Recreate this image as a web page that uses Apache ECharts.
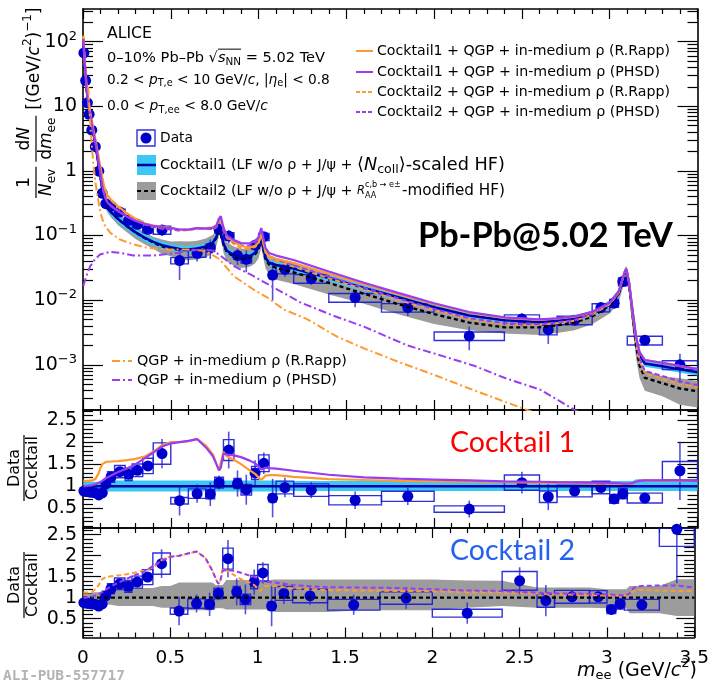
<!DOCTYPE html>
<html><head><meta charset="utf-8">
<script src="https://cdn.jsdelivr.net/npm/echarts@6/dist/echarts.min.js"></script>
<style>html,body{margin:0;padding:0;background:#fff;overflow:hidden}#c{width:712px;height:682px}</style>
</head><body><div id="c"></div>
<script>
// ===== data points (bin centres, bin edges, values) =====
const ptM   = [0.005,0.015,0.025,0.035,0.05,0.07,0.09,0.11,0.13,0.16,0.21,0.26,0.31,0.37,0.45,0.55,0.65,0.725,0.775,0.83,0.88,0.93,0.98,1.03,1.08,1.15,1.3,1.55,1.85,2.2,2.5,2.65,2.8,2.95,3.025,3.075,3.2,3.4];
const binLo = [0,0.01,0.02,0.03,0.04,0.06,0.08,0.10,0.12,0.14,0.18,0.24,0.28,0.34,0.40,0.5,0.6,0.7,0.75,0.8,0.86,0.9,0.96,1.0,1.06,1.1,1.2,1.4,1.7,2.0,2.4,2.6,2.7,2.9,3.0,3.05,3.1,3.3];
const binHi = [0.01,0.02,0.03,0.04,0.06,0.08,0.10,0.12,0.14,0.18,0.24,0.28,0.34,0.40,0.5,0.6,0.7,0.75,0.8,0.86,0.9,0.96,1.0,1.06,1.1,1.2,1.4,1.7,2.0,2.4,2.6,2.7,2.9,3.0,3.05,3.1,3.3,3.5];
const dataY = [67,25,11.3,7.5,4.27,2.37,0.99,0.45,0.311,0.286,0.231,0.172,0.149,0.125,0.122,0.041,0.053,0.065,0.125,0.098,0.049,0.043,0.071,0.096,0.0245,0.030,0.0216,0.011,0.0077,0.0028,0.0051,0.0035,0.0049,0.0077,0.009,0.0194,0.0024,0.001];
const statRel = [0.02,0.02,0.03,0.03,0.03,0.04,0.05,0.06,0.06,0.06,0.05,0.06,0.06,0.07,0.19,0.5,0.25,0.33,0.15,0.23,0.28,0.37,0.22,0.16,0.6,0.23,0.2,0.29,0.26,0.4,0.23,0.4,0.13,0.1,0.05,0.04,0.11,0.49];
const sysRel  = [0.08,0.08,0.08,0.08,0.08,0.09,0.09,0.1,0.1,0.1,0.105,0.11,0.105,0.12,0.14,0.11,0.13,0.13,0.115,0.13,0.11,0.13,0.115,0.125,0.12,0.15,0.155,0.155,0.15,0.15,0.16,0.17,0.15,0.145,0.14,0.14,0.155,0.155];
const ratioC1 = [0.89,0.88,0.88,0.87,0.86,0.85,0.80,0.85,1.05,1.21,1.33,1.27,1.36,1.46,1.74,0.67,0.83,0.82,1.08,1.82,1.06,0.92,1.30,1.52,0.73,0.97,0.91,0.68,0.77,0.48,1.08,0.76,0.89,0.97,0.71,0.83,0.73,1.35];
const ratioC2 = [0.88,0.87,0.87,0.86,0.85,0.84,0.80,0.85,1.04,1.21,1.33,1.27,1.37,1.49,1.81,0.68,0.86,0.84,1.10,1.93,1.14,0.96,1.37,1.59,0.80,1.10,1.04,0.83,0.99,0.63,1.40,0.93,1.02,1.02,0.72,0.85,0.83,2.63];

// ===== cocktail / model curves =====
const curveM = [0.002,0.005,0.01,0.015,0.02,0.03,0.04,0.05,0.06,0.07,0.08,0.09,0.10,0.11,0.12,0.13,0.14,0.16,0.2,0.25,0.3,0.35,0.4,0.45,0.5,0.55,0.6,0.65,0.7,0.74,0.76,0.775,0.785,0.8,0.82,0.86,0.9,0.95,0.98,1.0,1.015,1.025,1.04,1.06,1.1,1.2,1.4,1.6,1.8,2.0,2.2,2.4,2.6,2.7,2.8,2.9,3.0,3.05,3.07,3.085,3.095,3.11,3.13,3.15,3.17,3.2,3.3,3.4,3.5];
const cocktail1 = [110,75,45,29,19,11,7.5,5.2,3.7,2.7,1.8,1.2,0.8,0.52,0.38,0.31,0.27,0.23,0.18,0.14,0.112,0.093,0.08,0.071,0.066,0.062,0.061,0.063,0.068,0.078,0.095,0.135,0.14,0.075,0.058,0.05,0.046,0.048,0.054,0.065,0.095,0.07,0.045,0.038,0.035,0.031,0.022,0.0155,0.011,0.0078,0.0058,0.0049,0.0046,0.0048,0.0052,0.0061,0.0085,0.0125,0.019,0.026,0.029,0.018,0.0065,0.0025,0.0014,0.00105,0.00095,0.00085,0.00077];
const cocktail2 = [110,75,45,29,19,11,7.5,5.2,3.7,2.7,1.8,1.2,0.8,0.52,0.38,0.31,0.27,0.23,0.18,0.14,0.111,0.092,0.078,0.068,0.063,0.060,0.0595,0.061,0.066,0.076,0.093,0.132,0.137,0.072,0.055,0.0475,0.0437,0.0456,0.0513,0.062,0.09,0.0665,0.0425,0.0355,0.0315,0.027,0.0185,0.0126,0.0086,0.0061,0.0045,0.0038,0.0038,0.0041,0.0045,0.0056,0.0083,0.0123,0.0186,0.0255,0.0284,0.0176,0.0059,0.002,0.00098,0.00063,0.00052,0.00043,0.00039];
const c1BandHi = [1.10,1.10,1.10,1.10,1.10,1.10,1.10,1.10,1.10,1.10,1.10,1.10,1.10,1.13,1.13,1.13,1.13,1.13,1.13,1.13,1.13,1.13,1.13,1.13,1.13,1.13,1.13,1.13,1.13,1.13,1.13,1.13,1.13,1.13,1.13,1.13,1.13,1.13,1.13,1.13,1.13,1.13,1.13,1.13,1.13,1.12,1.12,1.12,1.12,1.12,1.12,1.12,1.12,1.12,1.12,1.12,1.12,1.12,1.12,1.12,1.12,1.12,1.12,1.16,1.16,1.16,1.16,1.16,1.16];
const c1BandLo = [0.91,0.91,0.91,0.91,0.91,0.91,0.91,0.91,0.91,0.91,0.91,0.91,0.91,0.88,0.88,0.88,0.88,0.88,0.88,0.88,0.88,0.88,0.88,0.88,0.88,0.88,0.88,0.88,0.88,0.88,0.88,0.88,0.88,0.88,0.88,0.88,0.88,0.88,0.88,0.88,0.88,0.88,0.88,0.88,0.88,0.89,0.89,0.89,0.89,0.89,0.89,0.89,0.89,0.89,0.89,0.89,0.89,0.89,0.89,0.89,0.89,0.89,0.89,0.89,0.89,0.89,0.89,0.89,0.89];
const c2BandHi = [1.10,1.10,1.10,1.10,1.10,1.10,1.10,1.10,1.13,1.13,1.13,1.13,1.13,1.18,1.18,1.18,1.18,1.18,1.23,1.23,1.23,1.23,1.23,1.28,1.28,1.36,1.36,1.36,1.36,1.36,1.30,1.30,1.30,1.30,1.42,1.42,1.42,1.42,1.42,1.42,1.42,1.42,1.42,1.42,1.43,1.43,1.43,1.43,1.43,1.43,1.41,1.40,1.24,1.24,1.24,1.24,1.20,1.20,1.20,1.20,1.20,1.20,1.28,1.28,1.28,1.28,1.28,1.44,1.44];
const c2BandLo = [0.90,0.90,0.90,0.90,0.90,0.90,0.90,0.90,0.87,0.87,0.87,0.87,0.87,0.83,0.83,0.83,0.83,0.83,0.80,0.80,0.80,0.80,0.80,0.76,0.76,0.70,0.70,0.70,0.70,0.70,0.75,0.75,0.75,0.75,0.72,0.72,0.72,0.72,0.72,0.72,0.72,0.72,0.72,0.72,0.66,0.66,0.66,0.70,0.70,0.70,0.76,0.80,0.76,0.76,0.76,0.76,0.75,0.75,0.75,0.75,0.75,0.75,0.63,0.63,0.63,0.63,0.63,0.56,0.56];
// model / cocktail ratios
const rappOverC1 = [1.12,1.12,1.12,1.12,1.12,1.12,1.12,1.13,1.14,1.16,1.2,1.3,1.42,1.5,1.54,1.55,1.55,1.56,1.57,1.59,1.62,1.67,1.78,1.93,2.0,2.0,2.02,2.07,1.92,1.72,1.5,1.36,1.4,1.78,1.68,1.6,1.5,1.36,1.28,1.2,1.14,1.18,1.24,1.25,1.25,1.21,1.16,1.14,1.12,1.11,1.1,1.09,1.08,1.075,1.07,1.06,1.055,1.05,1.05,1.05,1.05,1.05,1.06,1.1,1.13,1.13,1.12,1.12,1.12];
const phsdOverC1 = [1.0,1.0,1.0,1.0,1.0,1.01,1.01,1.02,1.03,1.04,1.06,1.08,1.1,1.12,1.15,1.18,1.2,1.24,1.32,1.4,1.5,1.63,1.76,1.9,1.97,2.0,2.03,2.07,1.88,1.68,1.5,1.36,1.42,1.74,1.72,1.7,1.66,1.58,1.52,1.45,1.38,1.4,1.42,1.41,1.4,1.35,1.26,1.2,1.17,1.15,1.13,1.11,1.1,1.09,1.085,1.08,1.075,1.07,1.06,1.06,1.06,1.06,1.07,1.1,1.12,1.13,1.13,1.13,1.12];
const rappOverC2 = [1.12,1.12,1.12,1.12,1.12,1.12,1.12,1.13,1.16,1.2,1.24,1.3,1.38,1.44,1.47,1.49,1.5,1.51,1.53,1.56,1.6,1.64,1.72,1.9,1.98,2.0,2.05,2.1,1.95,1.65,1.45,1.33,1.38,1.7,1.65,1.55,1.45,1.37,1.3,1.22,1.16,1.2,1.27,1.28,1.28,1.22,1.18,1.17,1.16,1.15,1.13,1.12,1.1,1.08,1.07,1.06,1.05,1.05,1.05,1.05,1.05,1.05,1.07,1.15,1.18,1.18,1.17,1.16,1.16];
const phsdOverC2 = [1.0,1.0,1.0,1.0,1.0,1.01,1.01,1.02,1.03,1.05,1.07,1.09,1.11,1.13,1.16,1.19,1.22,1.27,1.35,1.45,1.54,1.62,1.75,1.88,1.97,2.0,2.05,2.1,1.95,1.65,1.45,1.33,1.38,1.64,1.66,1.64,1.6,1.53,1.5,1.45,1.4,1.4,1.38,1.37,1.36,1.3,1.25,1.24,1.23,1.2,1.17,1.16,1.12,1.1,1.1,1.09,1.08,1.06,1.06,1.06,1.06,1.06,1.1,1.22,1.27,1.28,1.29,1.29,1.24];
const unity = [[0,1],[3.5,1]];
// QGP + in-medium rho only
const qgpRappM = [0.03,0.035,0.04,0.05,0.06,0.07,0.08,0.1,0.12,0.154,0.21,0.287,0.363,0.477,0.59,0.7,0.778,0.857,0.97,1.05,1.143,1.276,1.45,1.6,1.8,2.0,2.2,2.4,2.6,2.8];
const qgpRapp  = [20,12,6,2.5,1.2,0.7,0.45,0.22,0.15,0.111,0.087,0.073,0.065,0.061,0.061,0.058,0.043,0.0237,0.0147,0.011,0.0072,0.0051,0.0027,0.0018,0.0011,0.0007,0.00043,0.00027,0.00017,0.0001];
const qgpPhsdM = [0.002,0.02,0.04,0.068,0.097,0.154,0.21,0.287,0.4,0.515,0.667,0.745,0.8,0.857,0.97,1.105,1.24,1.43,1.6,1.846,2.0,2.227,2.4,2.607,2.8,3.0];
const qgpPhsd  = [0.0166,0.024,0.033,0.043,0.051,0.056,0.054,0.049,0.049,0.053,0.061,0.058,0.045,0.034,0.0237,0.0147,0.0092,0.0057,0.0039,0.002,0.0015,0.00097,0.00063,0.00041,0.0002,0.0001];

// ===== ticks =====
const xMajor = [0,0.5,1,1.5,2,2.5,3,3.5];
const xMinor = [0.1,0.2,0.3,0.4,0.6,0.7,0.8,0.9,1.1,1.2,1.3,1.4,1.6,1.7,1.8,1.9,2.1,2.2,2.3,2.4,2.6,2.7,2.8,2.9,3.1,3.2,3.3,3.4];
const logMajor = [0.001,0.01,0.1,1,10,100];
const logMinor = [3e-4,4e-4,5e-4,6e-4,7e-4,8e-4,9e-4,2e-3,3e-3,4e-3,5e-3,6e-3,7e-3,8e-3,9e-3,0.02,0.03,0.04,0.05,0.06,0.07,0.08,0.09,0.2,0.3,0.4,0.5,0.6,0.7,0.8,0.9,2,3,4,5,6,7,8,9,20,30,40,50,60,70,80,90,200,300];
const rMajor = [0.5,1,1.5,2,2.5];
const rMinor = [0.1,0.2,0.3,0.4,0.6,0.7,0.8,0.9,1.1,1.2,1.3,1.4,1.6,1.7,1.8,1.9,2.1,2.2,2.3,2.4,2.6,2.7];

// ===== styling =====
const FAM = '"DejaVu Sans", "Liberation Sans", sans-serif';
const ORANGE='#ff9a30', PURPLE='#9a3cf2', CYAN='#3cc8f5', GRAY='#9c9c9c', CBLUE='#0000aa', DOT='#0000cc';
const GRIDS = [
  {left:83, top:9, width:614.5, height:401},
  {left:83, top:410, width:614.5, height:118},
  {left:83, top:528, width:614.5, height:109.5}
];
const YR = [[2e-4,320],[0.05,2.73],[0.05,2.66]];

const tickLS = {color:'#000', width:1.2};
const lineLS = {color:'#000', width:1.6};
function xAx(g, labels){
  const base = {type:'value', gridIndex:g, min:0, max:3.5, splitLine:{show:false}, axisLabel:{show:false}, axisLine:{show:false,onZero:false}};
  const lbl = labels ? {show:true, customValues:xMajor, margin:11, color:'#000', fontFamily:FAM, fontSize:18.5, formatter:v=>String(v)} : {show:false};
  return [
    Object.assign({}, base, {position:'bottom', axisLine:{show:true,onZero:false,lineStyle:lineLS}, axisTick:{show:true,inside:true,length:10,customValues:xMajor,lineStyle:tickLS}, axisLabel:lbl}),
    Object.assign({}, base, {position:'bottom', axisTick:{show:true,inside:true,length:5,customValues:xMinor,lineStyle:tickLS}}),
    Object.assign({}, base, {position:'top', axisLine:{show:true,onZero:false,lineStyle:lineLS}, axisTick:{show:true,inside:true,length:10,customValues:xMajor,lineStyle:tickLS}}),
    Object.assign({}, base, {position:'top', axisTick:{show:true,inside:true,length:5,customValues:xMinor,lineStyle:tickLS}})
  ];
}
function logFmt(v){
  const e = Math.round(Math.log10(v));
  if (e===0) return '{b|1}';
  if (e===1) return '{b|10}';
  return '{b|10}{s|' + (e<0 ? '\u2212'+(-e) : e) + '}';
}
function yAx(g){
  const isLog = g===0;
  const maj = isLog ? logMajor : rMajor, mnr = isLog ? logMinor : rMinor;
  const lenMaj = [20,20,18][g];
  const base = {type: isLog?'log':'value', gridIndex:g, min:YR[g][0], max:YR[g][1], splitLine:{show:false}, axisLabel:{show:false}, axisLine:{show:false,onZero:false}};
  if (isLog) base.logBase = 10;
  const lbl = {show:true, customValues:maj, margin:6, color:'#000', fontFamily:FAM, fontSize:19,
    formatter: isLog ? logFmt : (v=>String(v)),
    rich: {b:{fontFamily:FAM, fontSize:19, color:'#000', lineHeight:24}, s:{fontFamily:FAM, fontSize:13, color:'#000', verticalAlign:'top', lineHeight:13}}};
  return [
    Object.assign({}, base, {position:'left', axisLine:{show:true,onZero:false,lineStyle:lineLS}, axisTick:{show:true,inside:true,length:lenMaj,customValues:maj,lineStyle:tickLS}, axisLabel:lbl}),
    Object.assign({}, base, {position:'left', axisTick:{show:true,inside:true,length:10,customValues:mnr,lineStyle:tickLS}}),
    Object.assign({}, base, {position:'right', axisLine:{show:true,onZero:false,lineStyle:lineLS}, axisTick:{show:true,inside:true,length:lenMaj,customValues:maj,lineStyle:tickLS}}),
    Object.assign({}, base, {position:'right', axisTick:{show:true,inside:true,length:10,customValues:mnr,lineStyle:tickLS}})
  ];
}

// ===== series helpers =====
function bandSeries(g, xs, lo, hi, color){
  return {type:'custom', coordinateSystem:'cartesian2d', xAxisIndex:4*g, yAxisIndex:4*g, silent:true, clip:true,
    data:[[xs[0], hi[0]]], encode:{x:0,y:1},
    renderItem:function(params, api){
      const pts=[];
      for (let i=0;i<xs.length;i++) pts.push(api.coord([xs[i], hi[i]]));
      for (let i=xs.length-1;i>=0;i--) pts.push(api.coord([xs[i], lo[i]]));
      return {type:'polygon', shape:{points:pts}, style:{fill:color}};
    }};
}
function lineSeries(g, xs, ys, color, width, type){
  return {type:'line', xAxisIndex:4*g, yAxisIndex:4*g, data: xs.map((x,i)=>[x, ys[i]]), symbol:'none', showSymbol:false, silent:true, clip:true,
    lineStyle:{color:color, width:width, type:type||'solid'}};
}
function errSeries(g, vals){
  return {type:'custom', coordinateSystem:'cartesian2d', xAxisIndex:4*g, yAxisIndex:4*g, silent:true, clip:true,
    data: vals.map((v,i)=>[ptM[i], v, binLo[i], binHi[i], statRel[i], sysRel[i]]), encode:{x:0,y:1},
    renderItem:function(params, api){
      const cs = params.coordSys;
      const cy = y => Math.max(cs.y, Math.min(cs.y+cs.height, y));
      const m=api.value(0), v=api.value(1), lo=api.value(2), hi=api.value(3), st=api.value(4), sy=api.value(5);
      const a = api.coord([lo, v*(1+sy)]), b = api.coord([hi, v*(1-sy)]);
      const t = api.coord([m, v*(1+st)]), u = api.coord([m, v*(1-st)]);
      const y1 = cy(a[1]), y2 = cy(b[1]);
      return {type:'group', children:[
        {type:'rect', shape:{x:a[0], y:y1, width:b[0]-a[0], height:y2-y1}, style:{fill:'none', stroke:'rgba(25,25,215,0.9)', lineWidth:1.4}},
        {type:'line', shape:{x1:t[0], y1:cy(t[1]), x2:u[0], y2:cy(u[1])}, style:{stroke:'rgba(40,40,215,0.8)', lineWidth:1.6}}
      ]};
    }};
}
function dotSeries(g, vals){
  return {type:'scatter', xAxisIndex:4*g, yAxisIndex:4*g, data: ptM.map((m,i)=>[m, vals[i]]), symbol:'circle', symbolSize:11, silent:true,
    itemStyle:{color:DOT, opacity:1}};
}

// derived band edges and absolute model curves (cocktail x ratio)
const c1Up = cocktail1.map((v,i)=>v*c1BandHi[i]), c1Dn = cocktail1.map((v,i)=>v*c1BandLo[i]);
const c2Up = cocktail2.map((v,i)=>v*c2BandHi[i]), c2Dn = cocktail2.map((v,i)=>v*c2BandLo[i]);
const rapp1Abs = cocktail1.map((v,i)=>v*rappOverC1[i]), phsd1Abs = cocktail1.map((v,i)=>v*phsdOverC1[i]);
const rapp2Abs = cocktail2.map((v,i)=>v*rappOverC2[i]), phsd2Abs = cocktail2.map((v,i)=>v*phsdOverC2[i]);
const DASH=[5,3], DASHDOT=[8,3,2,3];

const series = [
  bandSeries(0, curveM, c2Dn, c2Up, GRAY),
  bandSeries(0, curveM, c1Dn, c1Up, CYAN),
  lineSeries(0, curveM, cocktail2, '#000', 2.4, [4,3]),
  lineSeries(0, curveM, cocktail1, CBLUE, 2.5),
  lineSeries(0, curveM, rapp2Abs, ORANGE, 2, DASH),
  lineSeries(0, curveM, phsd2Abs, PURPLE, 2, DASH),
  lineSeries(0, curveM, rapp1Abs, ORANGE, 2.2),
  lineSeries(0, curveM, phsd1Abs, PURPLE, 2.2),
  lineSeries(0, qgpRappM, qgpRapp, ORANGE, 2, DASHDOT),
  lineSeries(0, qgpPhsdM, qgpPhsd, PURPLE, 2, DASHDOT),
  errSeries(0, dataY),
  dotSeries(0, dataY),
  bandSeries(1, curveM, c1BandLo, c1BandHi, CYAN),
  lineSeries(1, unity.map(p=>p[0]), unity.map(p=>p[1]), CBLUE, 2.5),
  lineSeries(1, curveM, rappOverC1, ORANGE, 2.2),
  lineSeries(1, curveM, phsdOverC1, PURPLE, 2.2),
  errSeries(1, ratioC1),
  dotSeries(1, ratioC1),
  bandSeries(2, curveM, c2BandLo, c2BandHi, GRAY),
  lineSeries(2, unity.map(p=>p[0]), unity.map(p=>p[1]), '#000', 2.4, [4,3]),
  lineSeries(2, curveM, rappOverC2, ORANGE, 2, DASH),
  lineSeries(2, curveM, phsdOverC2, PURPLE, 2, DASH),
  errSeries(2, ratioC2),
  dotSeries(2, ratioC2)
];

// ===== text helpers =====
const mctx = document.createElement('canvas').getContext('2d');
function fnt(size, it, bold, fam){ return (it?'italic ':'')+(bold?'bold ':'')+size.toFixed(2)+'px '+(fam||FAM); }
function tw(t, f){ mctx.font = f; return mctx.measureText(t).width; }
function runsWidth(runs){
  let w=0;
  for (const r of runs){
    if (r.stack) w += Math.max.apply(null, r.stack.map(q=>tw(q.t, fnt(q.s||14, q.it))));
    else w += tw(r.t, fnt(r.s||14, r.it, r.b, r.fam));
  }
  return w;
}
function layoutRuns(x0, yc, runs, color, out){
  let x = x0;
  for (const r of runs){
    if (r.stack){
      let w=0;
      for (const q of r.stack){
        const f = fnt(q.s||14, q.it);
        out.push({type:'text', x:x, y:yc+(q.dy||0), style:{text:q.t, font:f, fill:color, verticalAlign:'middle', align:'left'}});
        w = Math.max(w, tw(q.t, f));
      }
      x += w; continue;
    }
    const f = fnt(r.s||14, r.it, r.b, r.fam);
    const w = tw(r.t, f);
    out.push({type:'text', x:x, y:yc+(r.dy||0), style:{text:r.t, font:f, fill:r.c||color, verticalAlign:'middle', align:'left'}});
    if (r.ol !== undefined) out.push({type:'line', shape:{x1:x, y1:yc+r.ol, x2:x+w, y2:yc+r.ol}, style:{stroke:color, lineWidth:1}});
    x += w;
  }
  return x - x0;
}
function scaleRuns(runs, k){
  return runs.map(r => r.stack ? {stack: r.stack.map(q=>Object.assign({}, q, {s:(q.s||14)*k, dy:(q.dy||0)*k}))}
    : Object.assign({}, r, {s:(r.s||14)*k, dy:(r.dy||0)*k, ol: r.ol===undefined?undefined:r.ol*k}));
}
const G = [];
// lay out runs so their total width equals W (matches the reference text extent)
function fitTxt(x, yc, runs, W, color){
  const k = W / runsWidth(runs);
  return layoutRuns(x, yc, scaleRuns(runs, k), color||'#000', G);
}

// header
fitTxt(107, 34, [{t:'ALICE'}], 45);
fitTxt(107, 58, [{t:'0\u201310% Pb\u2013Pb '},{t:'\u221A'},{t:'s',it:1,ol:-8.5},{t:'NN',s:10,dy:4,ol:-8.5},{t:' = 5.02 TeV'}], 218);
fitTxt(107, 80, [{t:'0.2 < '},{t:'p',it:1},{t:'T,e',s:10,dy:4},{t:' < 10 GeV/'},{t:'c',it:1},{t:', |'},{t:'\u03B7',it:1},{t:'e',s:10,dy:4},{t:'| < 0.8'}], 223);
fitTxt(107, 106, [{t:'0.0 < '},{t:'p',it:1},{t:'T,ee',s:10,dy:4},{t:' < 8.0 GeV/'},{t:'c',it:1}], 161);

// right legend
const RL = [[51, ORANGE, 'solid', 'Cocktail1 + QGP + in-medium \u03C1 (R.Rapp)', 293],
            [72, PURPLE, 'solid', 'Cocktail1 + QGP + in-medium \u03C1 (PHSD)', 283],
            [92, ORANGE, DASH, 'Cocktail2 + QGP + in-medium \u03C1 (R.Rapp)', 293],
            [112, PURPLE, DASH, 'Cocktail2 + QGP + in-medium \u03C1 (PHSD)', 283]];
RL.forEach(r=>{
  G.push({type:'line', shape:{x1:356,y1:r[0],x2:373,y2:r[0]}, style:{stroke:r[1], lineWidth:2, lineDash: r[2]==='solid'?null:[4,2]}});
  fitTxt(377, r[0], [{t:r[3]}], r[4]);
});

// left legend
G.push({type:'rect', shape:{x:137,y:130,width:18,height:16}, style:{fill:'none', stroke:'rgba(25,25,215,0.9)', lineWidth:1.4}});
G.push({type:'circle', shape:{cx:146,cy:138,r:5.5}, style:{fill:DOT}});
fitTxt(160, 138, [{t:'Data'}], 33);
G.push({type:'rect', shape:{x:137,y:155,width:19,height:20}, style:{fill:CYAN}});
G.push({type:'line', shape:{x1:137,y1:165,x2:156,y2:165}, style:{stroke:CBLUE, lineWidth:2.5}});
fitTxt(160, 165, [{t:'Cocktail1 (LF w/o \u03C1 + J/\u03C8 + '}], 197);
fitTxt(357, 165, [{t:'\u27E8'},{t:'N',it:1},{t:'coll',s:10,dy:4},{t:'\u27E9-scaled HF)'}], 148);
G.push({type:'rect', shape:{x:137,y:182,width:19,height:18}, style:{fill:GRAY}});
G.push({type:'line', shape:{x1:137,y1:191,x2:156,y2:191}, style:{stroke:'#000', lineWidth:2.2, lineDash:[4,3]}});
fitTxt(160, 191, [{t:'Cocktail2 (LF w/o \u03C1 + J/\u03C8 + '}], 197);
fitTxt(357, 191, [{t:'R',it:1},{stack:[{t:'c,b \u2192 e\u00B1',s:10,dy:-7},{t:'AA',s:10,dy:6}]}], 44);
fitTxt(402, 191, [{t:'-modified HF)'}], 103);

// bottom legend (QGP only)
G.push({type:'line', shape:{x1:112,y1:361,x2:132,y2:361}, style:{stroke:ORANGE, lineWidth:2, lineDash:DASHDOT}});
fitTxt(137, 361, [{t:'QGP + in-medium \u03C1 (R.Rapp)'}], 210);
G.push({type:'line', shape:{x1:112,y1:380,x2:132,y2:380}, style:{stroke:PURPLE, lineWidth:2, lineDash:DASHDOT}});
fitTxt(137, 380, [{t:'QGP + in-medium \u03C1 (PHSD)'}], 200);

// big labels (fit to measured widths)
function fitSize(t, w, bold, fam){ return 30 * w / tw(t, fnt(30, false, bold, fam)); }
const LATO = 'Lato, "Open Sans", sans-serif';
const s1 = fitSize('Pb-Pb@5.02 TeV', 255, true, LATO);
G.push({type:'text', x:418, y:236, style:{text:'Pb-Pb@5.02 TeV', font:fnt(s1,false,true,LATO), fill:'#000', verticalAlign:'middle'}});
const s2 = fitSize('Cocktail 1', 125, false, LATO);
G.push({type:'text', x:450, y:443, style:{text:'Cocktail 1', font:fnt(s2,false,false,LATO), fill:'#ff0000', verticalAlign:'middle'}});
G.push({type:'text', x:450, y:551, style:{text:'Cocktail 2', font:fnt(s2,false,false,LATO), fill:'#2262ee', verticalAlign:'middle'}});
const MONO = '"DejaVu Sans Mono", monospace';
const s3 = fitSize('ALI-PUB-557717', 122, true, MONO);
G.push({type:'text', x:3, y:676, style:{text:'ALI-PUB-557717', font:fnt(s3,false,true,MONO), fill:'#b4b4b4', verticalAlign:'middle'}});

// x axis title (right aligned)
const xt = [{t:'m',s:19,it:1},{t:'ee',s:13,dy:5},{t:' (GeV/',s:19},{t:'c',s:19,it:1},{t:'2',s:13,dy:-7},{t:')',s:19}];
layoutRuns(697 - runsWidth(xt), 671, xt, '#000', G);

// y title (top panel), rotated
(function(){
  const T=[]; const S=17, SS=12; let x=0;
  function frac(num, den){
    const wn=runsWidth(num), wd=runsWidth(den); const L=Math.max(wn,wd)+4;
    layoutRuns(x+(L-wn)/2, -11, num, '#000', T);
    layoutRuns(x+(L-wd)/2, 11, den, '#000', T);
    T.push({type:'line', shape:{x1:x,y1:0,x2:x+L,y2:0}, style:{stroke:'#000', lineWidth:1.2}});
    x += L;
  }
  frac([{t:'1',s:S}], [{t:'N',s:S,it:1},{t:'ev',s:SS,dy:5}]);
  x += 5;
  frac([{t:'d',s:S},{t:'N',s:S,it:1}], [{t:'d',s:S},{t:'m',s:S,it:1},{t:'ee',s:SS,dy:5}]);
  x += 6;
  layoutRuns(x, -1, [{t:'[(GeV/',s:S},{t:'c',s:S,it:1},{t:'2',s:SS,dy:-7},{t:')',s:S},{t:'\u22121',s:SS,dy:-7},{t:']',s:S}], '#000', T);
  G.push({type:'group', x:36, y:198, rotation:Math.PI/2, children:T});
})();
// ratio titles
function ratioTitle(cy){
  const R=[]; const f=fnt(16);
  const wn=tw('Data',f), wd=tw('Cocktail',f); const L=Math.max(wn,wd)+2;
  layoutRuns(-wn/2, -9, [{t:'Data',s:16}], '#000', R);
  layoutRuns(-wd/2, 9, [{t:'Cocktail',s:16}], '#000', R);
  R.push({type:'line', shape:{x1:-L/2,y1:0,x2:L/2,y2:0}, style:{stroke:'#000', lineWidth:1.2}});
  G.push({type:'group', x:24, y:cy, rotation:Math.PI/2, children:R});
}
ratioTitle(468);
ratioTitle(585);
G.forEach(e=>{ e.z = 100; e.silent = true; });

const chart = echarts.init(document.getElementById('c'), null, {renderer:'canvas'});
chart.setOption({
  animation:false,
  backgroundColor:'#fff',
  grid: GRIDS,
  xAxis: [].concat(xAx(0,false), xAx(1,false), xAx(2,true)),
  yAxis: [].concat(yAx(0), yAx(1), yAx(2)),
  series: series,
  graphic: {elements: G}
});
</script></body></html>
